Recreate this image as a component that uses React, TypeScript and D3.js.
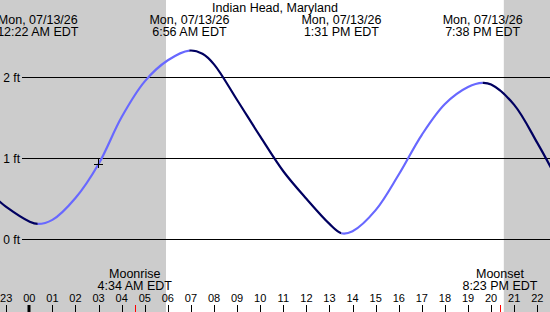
import React from "react";
import * as d3 from "d3";

// Tide heights (ft), hours relative to midnight Mon 07/13/26
const tideHours = [-1.3, -1, 0, 0.367, 1, 2, 3, 4, 5, 6, 6.933, 7.5, 8, 9, 10, 11, 12, 13, 13.517, 14, 15, 16, 17, 18, 19, 19.633, 20, 21, 22, 22.6];
const tideFeet = [0.47, 0.4, 0.22, 0.19, 0.24, 0.51, 0.93, 1.51, 1.95, 2.21, 2.33, 2.29, 2.16, 1.72, 1.27, 0.84, 0.5, 0.19, 0.075, 0.1, 0.36, 0.8, 1.29, 1.67, 1.88, 1.93, 1.91, 1.66, 1.19, 0.88];

// High / low extremes
const extremeHours = [0.367, 6.933, 13.517, 19.633];
const extremeDates = ["Mon, 07/13/26", "Mon, 07/13/26", "Mon, 07/13/26", "Mon, 07/13/26"];
const extremeTimes = ["12:22 AM EDT", "6:56 AM EDT", "1:31 PM EDT", "7:38 PM EDT"];

// Night (sun down) intervals
const nightStart = [-2, 20.55];
const nightEnd = [5.92, 25];

// Moon events
const moonHours = [4.567, 20.383];
const moonNames = ["Moonrise", "Moonset"];
const moonTimes = ["4:34 AM EDT", "8:23 PM EDT"];

// Hour axis
const tickHours = d3.range(-1, 23);
const tickLabels = ["23", "00", "01", "02", "03", "04", "05", "06", "07", "08", "09", "10", "11", "12", "13", "14", "15", "16", "17", "18", "19", "20", "21", "22"];

const yTicks = [0, 1, 2];
const yTickLabels = ["0 ft", "1 ft", "2 ft"];

const markerHour = 3;
const markerFeet = 0.93;

const W = 550;
const H = 312;
const FONT = "'Liberation Sans', Arial, Helvetica, sans-serif";

export default function App() {
  const x = d3.scaleLinear().domain([0, 22]).range([29.3, 537.3]);
  const y = d3.scaleLinear().domain([0, 2]).range([239.3, 77.3]);

  const pts: [number, number][] = tideHours.map((h, i) => [h, tideFeet[i]]);
  const line = d3
    .line<[number, number]>()
    .x((d) => x(d[0]))
    .y((d) => y(d[1]))
    .curve(d3.curveCatmullRom.alpha(0.5));
  const pathD = line(pts) || "";

  // segments between extremes: rising or falling
  const bounds = [-3, ...extremeHours, 26];
  const segs = bounds.slice(0, -1).map((a, i) => {
    const c = bounds[i + 1];
    const iStart = tideHours.findIndex((t) => t >= a);
    const vA = tideFeet[Math.max(iStart, 0)];
    const iEnd = tideHours.findIndex((t) => t >= c);
    const vC = iEnd >= 0 ? tideFeet[iEnd] : tideFeet[tideFeet.length - 1];
    return { a, c, rising: vC > vA };
  });

  return (
    <svg
      width={W}
      height={H}
      style={{ position: "absolute", left: 0, top: 0, display: "block", background: "#ffffff" }}
      fontFamily={FONT}
    >
      <defs>
        {segs.map((s, i) => (
          <clipPath id={`seg${i}`} key={i}>
            <rect x={x(s.a)} y={0} width={x(s.c) - x(s.a)} height={H} />
          </clipPath>
        ))}
      </defs>
      <rect x={0} y={0} width={W} height={H} fill="#ffffff" />
      {nightStart.map((s, i) => (
        <rect key={i} x={x(s)} y={0} width={x(nightEnd[i]) - x(s)} height={H} fill="#cccccc" />
      ))}

      {/* title */}
      <text x={275} y={11.5} textAnchor="middle" fontSize={12.5} fill="#000">
        Indian Head, Maryland
      </text>

      {/* extreme labels */}
      {extremeHours.map((h, i) => (
        <g key={i} fontSize={12.5} fill="#000" textAnchor="middle">
          <text x={x(h)} y={24}>{extremeDates[i]}</text>
          <text x={x(h)} y={36}>{extremeTimes[i]}</text>
        </g>
      ))}

      {/* y grid */}
      {yTicks.map((v, i) => (
        <g key={i}>
          <line x1={22} x2={W} y1={y(v) + 0.5} y2={y(v) + 0.5} stroke="#000" strokeWidth={1} shapeRendering="crispEdges" />
          <text x={20} y={y(v) + 4.8} textAnchor="end" fontSize={12} fill="#000">
            {yTickLabels[i]}
          </text>
        </g>
      ))}

      {/* tide curve */}
      {segs.map((s, i) => (
        <path
          key={i}
          d={pathD}
          fill="none"
          stroke={s.rising ? "#6868ff" : "#000060"}
          strokeWidth={2.2}
          clipPath={`url(#seg${i})`}
        />
      ))}

      {/* current marker */}
      <g stroke="#000" strokeWidth={1} shapeRendering="crispEdges">
        <line x1={x(markerHour) - 4.5} x2={x(markerHour) + 4.5} y1={y(markerFeet) + 0.5} y2={y(markerFeet) + 0.5} />
        <line x1={x(markerHour)} x2={x(markerHour)} y1={y(markerFeet) - 4.5} y2={y(markerFeet) + 4.5} />
      </g>

      {/* moon labels */}
      {moonHours.map((h, i) => (
        <g key={i} fontSize={12.5} fill="#000" textAnchor="middle">
          <text x={x(h)} y={277.5}>{moonNames[i]}</text>
          <text x={x(h)} y={290}>{moonTimes[i]}</text>
          <line x1={Math.round(x(h)) + 0.5} x2={Math.round(x(h)) + 0.5} y1={305} y2={312} stroke="#ff0000" strokeWidth={1} />
        </g>
      ))}

      {/* hour axis */}
      {tickHours.map((h, i) => (
        <g key={i}>
          <text x={x(h)} y={301.5} textAnchor="middle" fontSize={11} fill="#000">
            {tickLabels[i]}
          </text>
          <line
            x1={Math.round(x(h)) + (h === 0 ? 0 : 0.5)}
            x2={Math.round(x(h)) + (h === 0 ? 0 : 0.5)}
            y1={305}
            y2={312}
            stroke="#000"
            strokeWidth={h === 0 ? 3 : 1}
          />
        </g>
      ))}
    </svg>
  );
}
